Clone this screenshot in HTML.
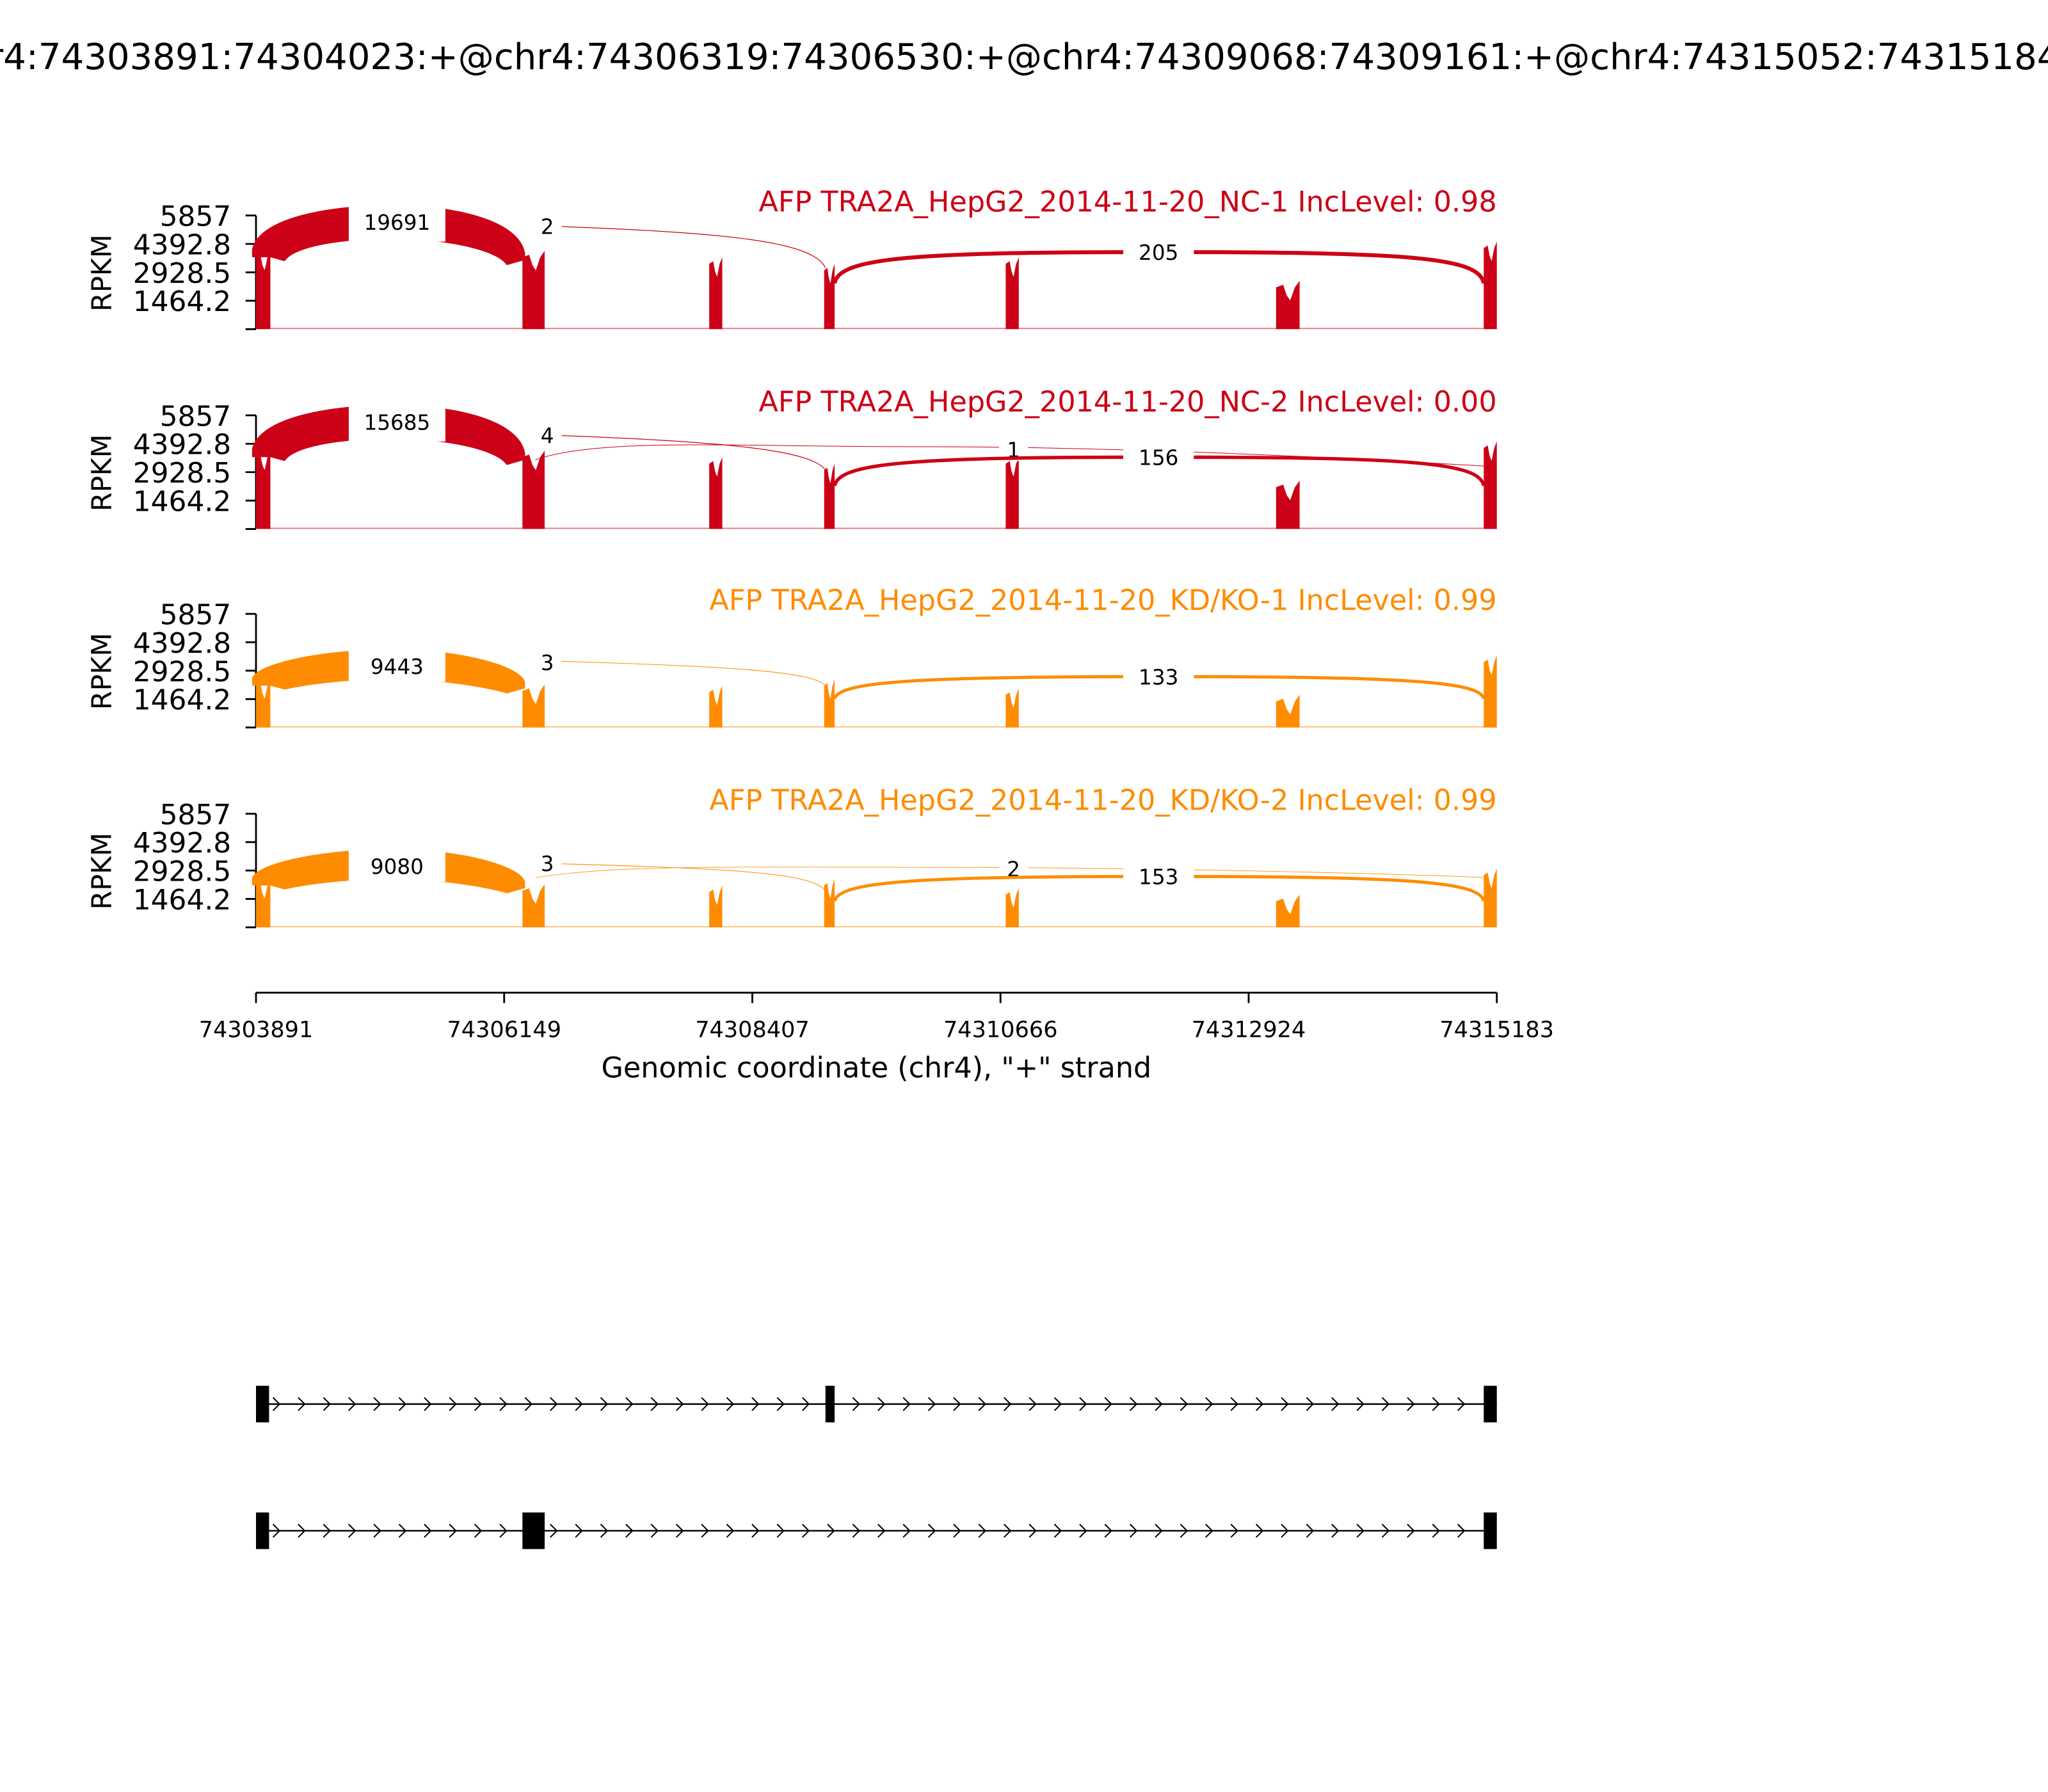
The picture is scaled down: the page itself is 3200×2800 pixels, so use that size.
<!DOCTYPE html>
<html><head><meta charset="utf-8">
<style>html,body{margin:0;padding:0;background:#fff}svg{display:block}text{font-family:"DejaVu Sans","Liberation Sans",sans-serif}</style>
</head><body>
<svg id="s" xmlns="http://www.w3.org/2000/svg" width="3200" height="2800" viewBox="0 0 1568 1372">
<rect width="1568" height="1372" fill="#fff"/>
<text x="784" y="53" font-size="27.5" text-anchor="middle">chr4:74303891:74304023:+@chr4:74306319:74306530:+@chr4:74309068:74309161:+@chr4:74315052:74315184:+</text>
<g id="panels"></g>
<g stroke="#000" stroke-width="1.4">
<line x1="196" y1="760" x2="1146" y2="760"/>
<line x1="196" y1="760" x2="196" y2="768"/><line x1="386" y1="760" x2="386" y2="768"/>
<line x1="576" y1="760" x2="576" y2="768"/><line x1="766" y1="760" x2="766" y2="768"/>
<line x1="956" y1="760" x2="956" y2="768"/><line x1="1146" y1="760" x2="1146" y2="768"/>
</g>
<g font-size="17.2" text-anchor="middle">
<text x="196" y="794">74303891</text><text x="386" y="794">74306149</text><text x="576" y="794">74308407</text>
<text x="766" y="794">74310666</text><text x="956" y="794">74312924</text><text x="1146" y="794">74315183</text>
</g>
<text x="671" y="825" font-size="21.8" text-anchor="middle">Genomic coordinate (chr4), "+" strand</text>
<g id="genes"></g>
</svg>
<script>
const P=document.getElementById('panels');
let h='';
const panels=[
 {b:252,c:'#cc0016',name:'AFP TRA2A_HepG2_2014-11-20_NC-1 IncLevel: 0.98',cov:[57,57,52,47,52,34,64],out:95,inn:69,big:'19691',arcs:[['M417,173 C560,178 622,185 632,205',0.6,'2',419,173]],inc:{y:217,pk:193,w:3,l:'205'}},
 {b:405,c:'#cc0016',name:'AFP TRA2A_HepG2_2014-11-20_NC-2 IncLevel: 0.00',cov:[57,57,52,47,52,34,64],out:95,inn:69,big:'15685',arcs:[['M417,333 C560,338 622,345 632,360',0.6,'4',419,333],['M410,352 C460,335 560,342 700,342 C900,342 1100,355 1140,357',0.5,'1',776,344]],inc:{y:372,pk:350,w:2.6,l:'156'}},
 {b:557,c:'#ff8c00',name:'AFP TRA2A_HepG2_2014-11-20_KD/KO-1 IncLevel: 0.99',cov:[34,30,29,34,27,22,52],out:60,inn:37,big:'9443',arcs:[['M417,506 C560,510 622,514 632,525',0.5,'3',419,507]],inc:{y:535,pk:518,w:2.4,l:'133'}},
 {b:710,c:'#ff8c00',name:'AFP TRA2A_HepG2_2014-11-20_KD/KO-2 IncLevel: 0.99',cov:[34,30,29,34,27,22,42],out:60,inn:37,big:'9080',arcs:[['M417,661 C560,665 622,668 632,682',0.5,'3',419,661],['M410,672 C470,662 560,664 700,664 C900,664 1100,670 1140,672',0.4,'2',776,665]],inc:{y:690,pk:671,w:2.4,l:'153'}}
];
const ex=[[196,207],[400,417],[543,553],[631,639],[770,780],[977,995],[1136,1146]];
panels.forEach(p=>{
 const b=p.b,t=b-87,c=p.c;
 h+=`<g stroke="#000" stroke-width="1.4"><line x1="196" y1="${t}" x2="196" y2="${b}"/>`;
 [0,1,2,3,4].forEach(i=>{const y=t+i*21.75;h+=`<line x1="188" y1="${y}" x2="196" y2="${y}"/>`;});
 h+=`</g>`;
 ['5857','4392.8','2928.5','1464.2'].forEach((l,i)=>{h+=`<text x="177" y="${t+i*21.75+8}" font-size="21.5" text-anchor="end">${l}</text>`;});
 h+=`<text transform="translate(85,${t+44}) rotate(-90)" font-size="21" text-anchor="middle">RPKM</text>`;
 h+=`<text x="1146" y="${t-3}" font-size="21.8" fill="${c}" text-anchor="end">${p.name}</text>`;
 h+=`<line x1="196" y1="${b-0.5}" x2="1146" y2="${b-0.5}" stroke="${c}" stroke-width="1" opacity="0.5"/>`;
 ex.forEach((e,i)=>{const y=b-p.cov[i],w=e[1]-e[0];
  h+=`<path d="M${e[0]},${b} L${e[0]},${y+2} L${e[0]+w*0.3},${y} L${e[0]+w*0.45},${y+8} L${e[0]+w*0.6},${y+12} L${e[0]+w*0.8},${y+2} L${e[1]},${y-3} L${e[1]},${b} Z" fill="${c}"/>`;});
 const o=b-p.out,n=b-p.inn,ly=b-p.cov[0]-4;
 h+=`<path d="M193,${ly} C198,${o+10} 250,${o} 300,${o} C350,${o} 398,${o+12} 402,${ly+3} L402,${ly+8} L388,${ly+12} C380,${n+8} 340,${n} 300,${n} C260,${n} 225,${n+6} 218,${ly+9} L207,${ly+6} L193,${ly+6} Z" fill="${c}"/>`;
 h+=`<rect x="267" y="${o-6}" width="74" height="${(n-o)+8}" fill="#fff"/>`;
 h+=`<text x="304" y="${o+19}" font-size="16" text-anchor="middle">${p.big}</text>`;
 p.arcs.forEach(a=>{
  h+=`<path d="${a[0]}" fill="none" stroke="${c}" stroke-width="${a[1]}"/>`;
  h+=`<rect x="${a[3]-11}" y="${a[4]-11}" width="22" height="20" fill="#fff"/>`;
  h+=`<text x="${a[3]}" y="${a[4]+6}" font-size="16" text-anchor="middle">${a[2]}</text>`;
 });
 const q=p.inc;
 h+=`<path d="M639,${q.y} C642,${q.pk+4} 700,${q.pk} 887,${q.pk} C1080,${q.pk} 1133,${q.pk+4} 1136,${q.y}" fill="none" stroke="${c}" stroke-width="${q.w}"/>`;
 h+=`<rect x="860" y="${q.pk-11}" width="54" height="22" fill="#fff"/>`;
 h+=`<text x="887" y="${q.pk+6}" font-size="16" text-anchor="middle">${q.l}</text>`;
});
P.innerHTML=h;
let g='';
function track(y,exs){
 g+=`<line x1="196" y1="${y}" x2="1146" y2="${y}" stroke="#000" stroke-width="1.2"/>`;
 for(let x=212;x<1136;x+=19.3){g+=`<path d="M${x-3},${y-5} L${x+2},${y} L${x-3},${y+5}" fill="none" stroke="#000" stroke-width="1"/>`;}
 exs.forEach(e=>{g+=`<rect x="${e[0]}" y="${y-14}" width="${e[1]-e[0]}" height="28" fill="#000"/>`;});
}
track(1075,[[196,206],[632,639],[1136,1146]]);
track(1172,[[196,206],[400,417],[1136,1146]]);
document.getElementById('genes').innerHTML=g;
</script>
</body></html>
